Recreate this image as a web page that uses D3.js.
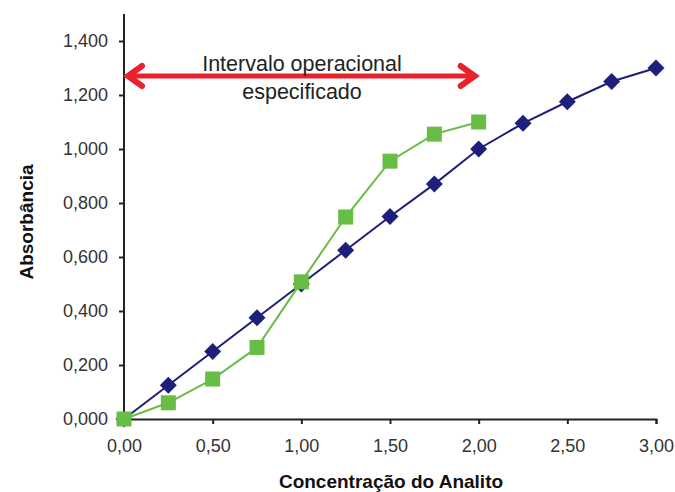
<!DOCTYPE html>
<html>
<head>
<meta charset="utf-8">
<script src="https://cdn.jsdelivr.net/npm/d3@7"></script>
<style>
  body { margin: 0; background: #fff; }
  svg { display: block; font-family: "Liberation Sans", Arial, sans-serif; }
</style>
</head>
<body>
<svg id="chart" width="675" height="492"></svg>
<script>
// dados
const concBlue = [0, 0.25, 0.5, 0.75, 1.0, 1.25, 1.5, 1.75, 2.0, 2.25, 2.5, 2.75, 3.0];
const absBlue = [0, 0.125, 0.25, 0.375, 0.5, 0.625, 0.75, 0.87, 1.0, 1.095, 1.175, 1.25, 1.30];
const concGreen = [0, 0.25, 0.5, 0.75, 1.0, 1.25, 1.5, 1.75, 2.0];
const absGreen = [0, 0.06, 0.148, 0.265, 0.508, 0.748, 0.955, 1.055, 1.10];
const xTicks = [0, 0.5, 1.0, 1.5, 2.0, 2.5, 3.0];
const yTicks = [0, 0.2, 0.4, 0.6, 0.8, 1.0, 1.2, 1.4];
const rangeStart = 0, rangeEnd = 2.0; // intervalo operacional

const svg = d3.select("#chart");
const x = d3.scaleLinear().domain([0, 3]).range([124, 656]);
const y = d3.scaleLinear().domain([0, 1.5]).range([419, 14]);

// vírgula como separador decimal
const fmt = n => v => d3.format(`.${n}f`)(v).replace(".", ",");

// eixo x
const gx = svg.append("g").attr("transform", `translate(0,${y(0)})`)
  .call(d3.axisBottom(x).tickValues(xTicks).tickSize(5).tickPadding(15).tickFormat(fmt(2)));
gx.select(".domain").attr("stroke", "#222").attr("stroke-width", 2);
gx.selectAll(".tick line").attr("stroke", "#222").attr("stroke-width", 2);
gx.selectAll("text").attr("font-size", 18).attr("fill", "#333")
  .attr("font-family", "Liberation Sans, Arial, sans-serif");

// eixo y
const gy = svg.append("g").attr("transform", `translate(${x(0)},0)`)
  .call(d3.axisLeft(y).tickValues(yTicks).tickSize(5).tickPadding(11).tickFormat(fmt(3)));
gy.select(".domain").attr("stroke", "#222").attr("stroke-width", 2)
  .attr("d", `M0,${y(1.5)}V${y(0)}`);
gy.selectAll(".tick line").attr("stroke", "#222").attr("stroke-width", 2);
gy.selectAll("text").attr("font-size", 18).attr("fill", "#333")
  .attr("font-family", "Liberation Sans, Arial, sans-serif");

// títulos dos eixos
svg.append("text").attr("x", 391).attr("y", 488).attr("text-anchor", "middle")
  .attr("font-size", 19).attr("font-weight", "bold").attr("fill", "#111")
  .text("Concentração do Analito");
svg.append("text").attr("transform", "translate(33,222) rotate(-90)")
  .attr("text-anchor", "middle").attr("font-size", 19).attr("font-weight", "bold")
  .attr("fill", "#111").text("Absorbância");

// seta do intervalo
const ay = 76, red = "#e8212b";
svg.append("line").attr("x1", x(rangeStart) + 8).attr("x2", x(rangeEnd) - 8)
  .attr("y1", ay).attr("y2", ay).attr("stroke", red).attr("stroke-width", 5);
[[x(rangeStart) + 4, 1], [x(rangeEnd) - 4, -1]].forEach(([px, dir]) => {
  svg.append("path")
    .attr("d", `M${px + dir * 14},${ay - 10}L${px},${ay}L${px + dir * 14},${ay + 10}`)
    .attr("fill", "none").attr("stroke", red).attr("stroke-width", 6)
    .attr("stroke-linejoin", "miter").attr("stroke-linecap", "round");
});
svg.append("text").attr("x", 302).attr("y", 71).attr("text-anchor", "middle")
  .attr("font-size", 21.5).attr("fill", "#222").text("Intervalo operacional");
svg.append("text").attr("x", 302).attr("y", 99).attr("text-anchor", "middle")
  .attr("font-size", 21.5).attr("fill", "#222").text("especificado");

// séries
const blue = "#1e1f7b", green = "#68bd45";
const line = d3.line().x(d => x(d[0])).y(d => y(d[1]));
const blueData = concBlue.map((c, i) => [c, absBlue[i]]);
const greenData = concGreen.map((c, i) => [c, absGreen[i]]);

svg.append("path").datum(blueData).attr("d", line)
  .attr("fill", "none").attr("stroke", blue).attr("stroke-width", 2);
svg.selectAll(".dia").data(blueData).join("path").attr("class", "dia")
  .attr("d", d3.symbol(d3.symbolSquare, 144))
  .attr("transform", d => `translate(${x(d[0])},${y(d[1])}) rotate(45)`)
  .attr("fill", blue);

svg.append("path").datum(greenData).attr("d", line)
  .attr("fill", "none").attr("stroke", green).attr("stroke-width", 2);
svg.selectAll(".sq").data(greenData).join("rect").attr("class", "sq")
  .attr("x", d => x(d[0]) - 7.5).attr("y", d => y(d[1]) - 7.5)
  .attr("width", 15).attr("height", 15).attr("fill", green);
</script>
</body>
</html>
